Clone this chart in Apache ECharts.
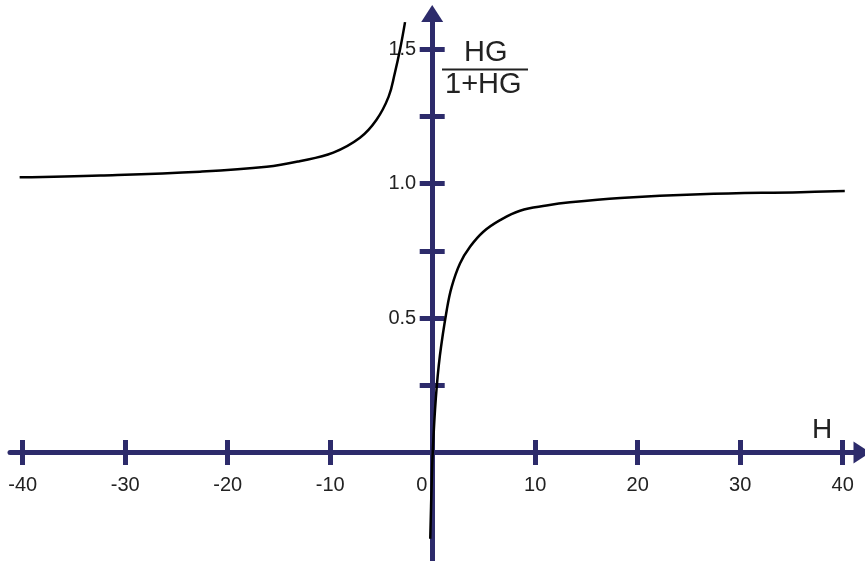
<!DOCTYPE html>
<html>
<head>
<meta charset="utf-8">
<script src="https://cdn.jsdelivr.net/npm/echarts@6/dist/echarts.min.js"></script>
<style>
  html, body { margin: 0; padding: 0; background: #fff; }
  #chart { width: 865px; height: 561px; }
</style>
</head>
<body>
<div id="chart"></div>
<script>
// left branch (H < -1) and right branch (H > -1)
const leftH = [-40.3, -32.4, -22.7, -16.2, -13, -9.7, -7.1, -5.5, -4.3, -3.7, -3.2, -2.7];
const leftY = [1.023, 1.030, 1.044, 1.062, 1.083, 1.115, 1.170, 1.236, 1.323, 1.41, 1.496, 1.60];
const rightH = [-0.24, -0.12, 0, 0.3, 0.7, 1.37, 1.85, 2.66, 3.64, 4.94, 6.57, 8.52, 11.1, 13.4, 18.3, 26.1, 35.9, 40.2];
const rightY = [-0.32, -0.14, 0, 0.2, 0.36, 0.53, 0.616, 0.703, 0.765, 0.821, 0.864, 0.899, 0.918, 0.930, 0.946, 0.960, 0.968, 0.972];

const xTicks = [-40, -30, -20, -10, 10, 20, 30, 40];
const xLabels = [-40, -30, -20, -10, 0, 10, 20, 30, 40];
const yTicks = [0.25, 0.5, 0.75, 1.0, 1.25, 1.5];
const yLabels = [0.5, 1.0, 1.5];

const axisColor = '#2d2b6b';
const textColor = '#222';
const fontFamily = '"Liberation Sans", Arial, sans-serif';

function pairs(xs, ys) {
  return xs.map((x, i) => [x, ys[i]]);
}

const chart = echarts.init(document.getElementById('chart'));

// axes sit at the zero lines through offset (grid: left 10, right 3, top 13.5, bottom 0)
function xAxisConf(position, offset, withLabels) {
  return {
    type: 'value',
    position: position,
    offset: offset,
    min: -41.24,
    max: 41.88,
    axisLine: {
      onZero: false,
      show: withLabels,
      symbol: ['none', 'triangle'],
      symbolSize: [22, 17],
      lineStyle: { color: axisColor, width: 5 }
    },
    axisTick: {
      show: true,
      length: 12.5,
      customValues: xTicks,
      lineStyle: { color: axisColor, width: 5 }
    },
    axisLabel: {
      show: withLabels,
      customValues: xLabels,
      margin: 23,
      fontSize: 20,
      color: textColor,
      fontFamily: fontFamily,
      formatter: function (v) {
        return v === 0 ? '{z|0}' : String(v);
      },
      rich: {
        z: { padding: [0, 22, 0, 0], fontSize: 20, color: textColor, fontFamily: fontFamily }
      }
    },
    splitLine: { show: false }
  };
}

function yAxisConf(position, offset, withLabels) {
  return {
    type: 'value',
    position: position,
    offset: offset,
    min: -0.403,
    max: 1.632,
    axisLine: {
      onZero: false,
      show: withLabels,
      symbol: ['none', 'triangle'],
      symbolSize: [22, 17],
      lineStyle: { color: axisColor, width: 5 }
    },
    axisTick: {
      show: true,
      length: 12.5,
      customValues: yTicks,
      lineStyle: { color: axisColor, width: 5 }
    },
    axisLabel: {
      show: withLabels,
      customValues: yLabels,
      margin: 16,
      fontSize: 20,
      color: textColor,
      fontFamily: fontFamily,
      formatter: function (v) { return v.toFixed(1); }
    },
    splitLine: { show: false }
  };
}

const option = {
  animation: false,
  backgroundColor: '#fff',
  grid: { left: 10, right: 3, top: 13.5, bottom: 0, containLabel: false, outerBoundsMode: 'none' },
  xAxis: [xAxisConf('bottom', -108.5, true), xAxisConf('top', -439, false)],
  yAxis: [yAxisConf('left', -422.2, true), yAxisConf('right', -429.8, false)],
  graphic: [
    {
      type: 'text',
      left: 464, top: 38,
      style: { text: 'HG', fontSize: 29, fill: textColor, fontFamily: fontFamily }
    },
    {
      type: 'line',
      shape: { x1: 442, y1: 69.5, x2: 528, y2: 69.5 },
      style: { stroke: textColor, lineWidth: 2 }
    },
    {
      type: 'text',
      left: 445, top: 70,
      style: { text: '1+HG', fontSize: 29, fill: textColor, fontFamily: fontFamily }
    },
    {
      type: 'text',
      left: 812, top: 416,
      style: { text: 'H', fontSize: 28, fill: textColor, fontFamily: fontFamily }
    }
  ],
  series: [
    {
      type: 'line',
      xAxisIndex: 0,
      yAxisIndex: 0,
      data: pairs(leftH, leftY),
      smooth: 0.4,
      showSymbol: false,
      clip: false,
      lineStyle: { color: '#000', width: 2.5 },
      z: 5
    },
    {
      type: 'line',
      xAxisIndex: 0,
      yAxisIndex: 0,
      data: pairs(rightH, rightY),
      smooth: 0.4,
      showSymbol: false,
      clip: false,
      lineStyle: { color: '#000', width: 2.5 },
      z: 5
    }
  ]
};

chart.setOption(option);
</script>
</body>
</html>
